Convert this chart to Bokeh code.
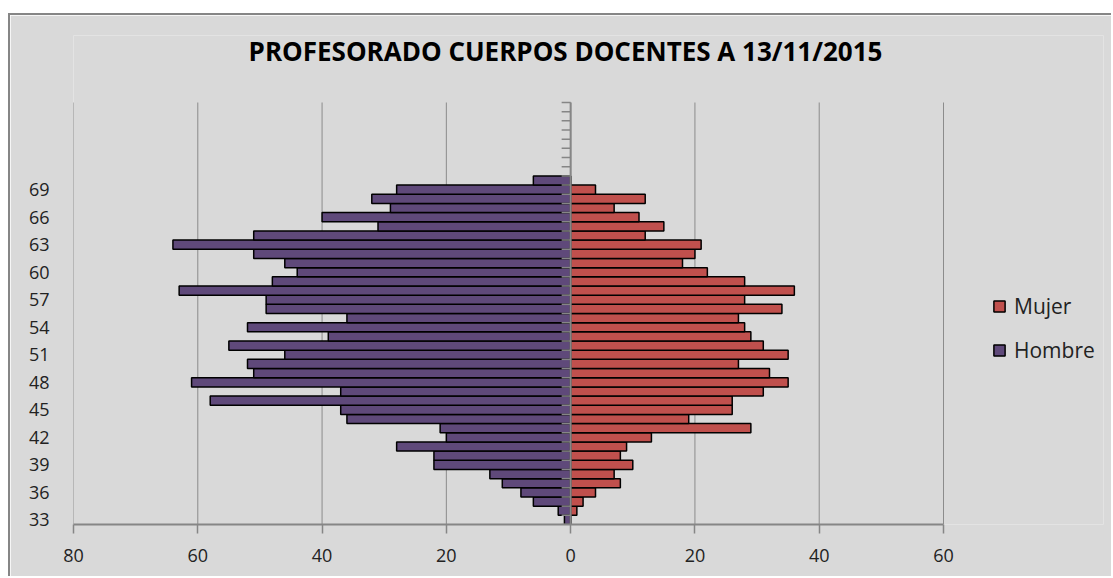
from bokeh.plotting import figure
from bokeh.models import (FixedTicker, Range1d, CustomJSTickFormatter, Label,
                          Legend, LegendItem, ColumnDataSource)
from bokeh.embed import file_html
from bokeh.resources import INLINE

# ---- data ----
ages = list(range(33, 71))
hombre = [1, 2, 6, 8, 11, 13, 22, 22, 28, 20,
          21, 36, 37, 58, 37, 61, 51, 52, 46, 55,
          39, 52, 36, 49, 49, 63, 48, 44, 46, 51,
          64, 51, 31, 40, 29, 32, 28, 6]
mujer = [0, 1, 2, 4, 8, 7, 10, 8, 9, 13,
         29, 19, 26, 26, 31, 35, 32, 27, 35, 31,
         29, 28, 27, 34, 28, 36, 28, 22, 18, 20,
         21, 12, 15, 11, 7, 12, 4, 0]
category_slots = list(range(33, 79))          # category axis includes empty rows up to 78
y_label_ticks = list(range(33, 70, 3))         # 33, 36, ..., 69
x_ticks = [-80, -60, -40, -20, 0, 20, 40, 60]
title_text = "PROFESORADO CUERPOS DOCENTES A 13/11/2015"

FONT = "Open Sans"
BG = "#D9D9D9"
AXIS_C = "#868686"

# layout geometry (pixels)
W, H = 1103, 563
B_LEFT, B_RIGHT, B_TOP, B_BOTTOM = 63, 10, 20, 54
FRAME_W = W - B_LEFT - B_RIGHT
FRAME_H = H - B_TOP - B_BOTTOM
AXIS_PX = 870                                   # pixel length of the -80..60 axis
PLOT_PX = 422                                   # pixel height of the category axis
px_per_unit = AXIS_PX / (x_ticks[-1] - x_ticks[0])
y_lo = category_slots[0] - 0.5
y_hi = category_slots[-1] + 0.5
px_per_cat = PLOT_PX / (y_hi - y_lo)
x_end = x_ticks[0] + FRAME_W / px_per_unit      # extra room on the right holds the legend
y_end = y_lo + FRAME_H / px_per_cat             # extra room on top holds the title

src = ColumnDataSource(dict(
    age=ages,
    male_left=[-v for v in hombre],
    female_right=mujer,
    zero=[0] * len(ages),
))

p = figure(width=W, height=H,
           x_range=Range1d(x_ticks[0], x_end),
           y_range=Range1d(y_lo, y_end),
           output_backend="svg", toolbar_location=None,
           min_border_left=B_LEFT, min_border_right=B_RIGHT,
           min_border_top=B_TOP, min_border_bottom=B_BOTTOM,
           background_fill_color=BG, border_fill_color=BG,
           outline_line_color=None)
p.styles = {"margin-left": "8px", "margin-top": "13px",
            "border-left": "2px solid #868686", "border-top": "2px solid #868686"}

# title
p.add_layout(Label(x=492, y=PLOT_PX + 52, x_units="screen", y_units="screen",
                   text=title_text, text_align="center", text_baseline="middle",
                   text_font=FONT, text_font_style="bold", text_font_size="26px",
                   text_color="#000000"))

# vertical grid lines, limited to the plot area
p.xgrid.visible = False
p.ygrid.visible = False
p.segment(x0=x_ticks, x1=x_ticks, y0=[y_lo] * len(x_ticks), y1=[y_hi] * len(x_ticks),
          line_color="#8C8C8C", line_width=1)

# bars
r_m = p.hbar(y="age", left="male_left", right="zero", height=1, source=src,
             fill_color="#5F497A", line_color="#000000", line_width=1.5)
r_f = p.hbar(y="age", left="zero", right="female_right", height=1, source=src,
             fill_color="#C0504D", line_color="#000000", line_width=1.5)

# vertical category axis line at 0 with tick marks at category boundaries
boundaries = [c - 0.5 for c in category_slots] + [category_slots[-1] + 0.5]
tick_len = 9 / px_per_unit
p.segment(x0=[-tick_len] * len(boundaries), x1=[0] * len(boundaries),
          y0=boundaries, y1=boundaries, line_color=AXIS_C, line_width=1.5)
p.segment(x0=[0], x1=[0], y0=[y_lo], y1=[y_hi], line_color=AXIS_C, line_width=2)

# x axis
xa = p.xaxis[0]
xa.ticker = FixedTicker(ticks=x_ticks)
xa.bounds = (x_ticks[0], x_ticks[-1])
xa.formatter = CustomJSTickFormatter(code="return Math.abs(tick).toFixed(0);")
xa.axis_line_color = AXIS_C
xa.axis_line_width = 2
xa.major_tick_line_color = AXIS_C
xa.major_tick_line_width = 1.5
xa.major_tick_out = 9
xa.major_tick_in = 0
xa.minor_tick_line_color = None
xa.major_label_standoff = 15
xa.major_label_text_font = FONT
xa.major_label_text_font_size = "18px"
xa.major_label_text_color = "#222222"

# y labels (low position, left)
ya = p.yaxis[0]
ya.ticker = FixedTicker(ticks=y_label_ticks)
ya.axis_line_color = None
ya.major_tick_line_color = None
ya.minor_tick_line_color = None
ya.major_tick_out = 0
ya.major_tick_in = 0
ya.major_label_standoff = 24
ya.major_label_text_font = FONT
ya.major_label_text_font_size = "18px"
ya.major_label_text_color = "#222222"

# legend (inside the frame, right of the axis extent)
legend = Legend(items=[LegendItem(label="Mujer", renderers=[r_f]),
                       LegendItem(label="Hombre", renderers=[r_m])],
                location=(909, 150), orientation="vertical",
                background_fill_alpha=0, border_line_alpha=0,
                label_text_font=FONT, label_text_font_size="21px",
                label_text_color="#222222", label_height=20,
                glyph_width=14, glyph_height=14, spacing=16,
                label_standoff=8, margin=0, padding=10)
p.add_layout(legend)

open("out.html", "w").write(file_html(p, INLINE))
